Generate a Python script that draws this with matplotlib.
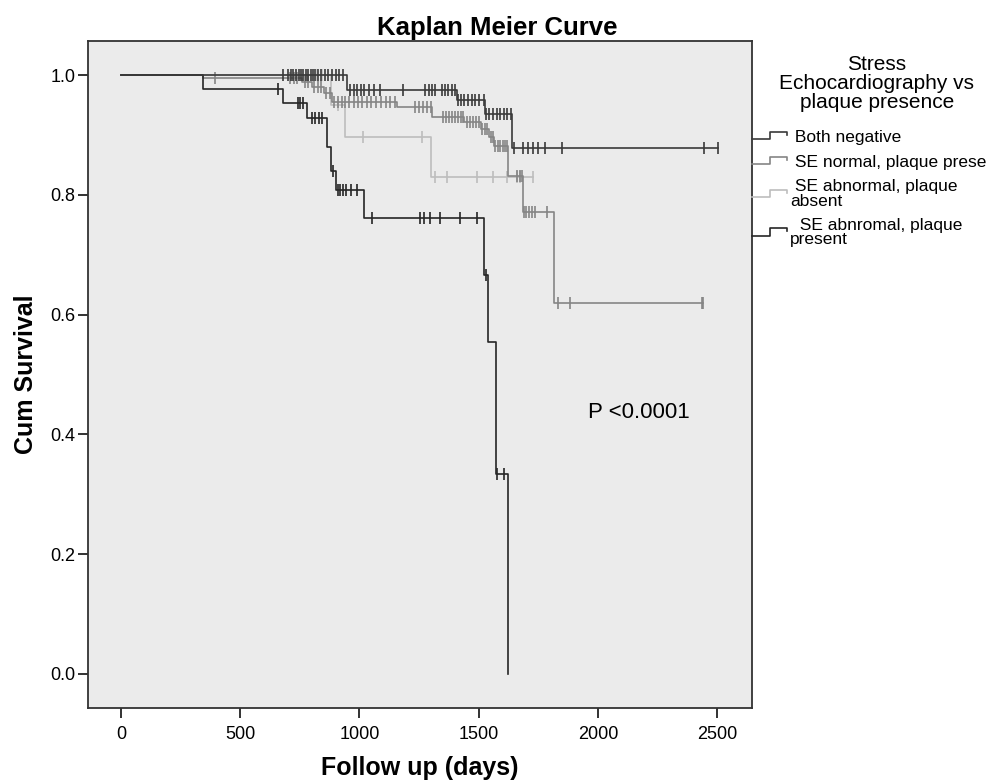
import matplotlib
matplotlib.use("Agg")
import matplotlib.pyplot as plt
import numpy as np
from matplotlib.legend_handler import HandlerBase
from matplotlib.lines import Line2D

plt.rcParams['font.family'] = ['Liberation Sans', 'DejaVu Sans']

# Kaplan-Meier step data (days, cumulative survival)
both_neg_t = [0, 948, 1408, 1525, 1640]
both_neg_s = [1.0, 0.975, 0.958, 0.935, 0.878]
both_neg_end = 2503
both_neg_cens = [680, 700, 712, 722, 735, 745, 755, 765, 775, 785, 795, 805, 815, 825,
                 840, 855, 870, 885, 900, 915, 930, 960, 975, 990, 1005, 1020, 1040,
                 1060, 1085, 1182, 1275, 1290, 1305, 1317, 1345, 1358, 1372, 1388, 1400,
                 1412, 1425, 1440, 1455, 1470, 1485, 1500, 1520, 1530, 1545, 1560, 1575,
                 1590, 1605, 1620, 1635, 1648, 1686, 1706, 1727, 1748, 1778, 1849,
                 2445, 2503]

se_norm_t = [0, 345, 760, 800, 850, 885, 1157, 1304, 1440, 1510, 1545, 1565, 1622, 1685, 1815]
se_norm_s = [1.0, 0.995, 0.988, 0.98, 0.97, 0.955, 0.947, 0.93, 0.922, 0.91, 0.897, 0.882,
             0.831, 0.771, 0.619]
se_norm_end = 2440
se_norm_cens = [395, 710, 725, 740, 770, 785, 810, 825, 840, 860, 875, 895, 910, 925, 940,
                955, 975, 995, 1010, 1030, 1050, 1070, 1090, 1110, 1130, 1150, 1233, 1250,
                1268, 1285, 1300, 1350, 1362, 1375, 1388, 1400, 1412, 1425, 1434, 1450,
                1462, 1475, 1490, 1500, 1515, 1525, 1535, 1550, 1558, 1570, 1580, 1590,
                1600, 1610, 1618, 1660, 1672, 1681, 1690, 1700, 1710, 1722, 1736, 1786,
                1833, 1882, 2435, 2440]

se_abn_abs_t = [0, 880, 940, 1300]
se_abn_abs_s = [1.0, 0.95, 0.897, 0.83]
se_abn_abs_end = 1727
se_abn_abs_cens = [822, 843, 910, 1015, 1262, 1317, 1367, 1493, 1560, 1618, 1660, 1673, 1727]

se_abn_pres_t = [0, 345, 680, 780, 864, 880, 900, 1019, 1522, 1540, 1572, 1623]
se_abn_pres_s = [1.0, 0.977, 0.953, 0.928, 0.88, 0.84, 0.808, 0.761, 0.667, 0.555, 0.333, 0.0]
se_abn_pres_end = 1623
se_abn_pres_cens = [660, 742, 752, 765, 800, 815, 830, 843, 890, 910, 920, 932, 945, 965,
                    990, 1052, 1255, 1270, 1295, 1337, 1421, 1493, 1530, 1575, 1605]

labels = [" Both negative", " SE normal, plaque present", " SE abnormal, plaque\nabsent",
          "  SE abnromal, plaque\npresent"]
colors = ["#3a3a3a", "#858585", "#bdbdbd", "#262626"]


class StepHandler(HandlerBase):
    # little step-shaped legend key, as SPSS draws it
    def create_artists(self, legend, orig_handle, xdescent, ydescent, width, height,
                       fontsize, trans):
        xs = np.array([0, 0.52, 0.52, 1.0, 1.0]) * width - xdescent
        ys = np.array([0.25, 0.25, 0.85, 0.85, 0.6]) * height - ydescent
        ln = Line2D(xs, ys, color=orig_handle.get_color(), lw=1.2, transform=trans)
        return [ln]


fig = plt.figure(figsize=(9.87, 7.81), dpi=100)
ax = fig.add_axes([0.0892, 0.0935, 0.6728, 0.854])
ax.set_facecolor("#ebebeb")

groups = [
    (both_neg_t, both_neg_s, both_neg_end, both_neg_cens),
    (se_norm_t, se_norm_s, se_norm_end, se_norm_cens),
    (se_abn_abs_t, se_abn_abs_s, se_abn_abs_end, se_abn_abs_cens),
    (se_abn_pres_t, se_abn_pres_s, se_abn_pres_end, se_abn_pres_cens),
]

handles = [None] * 4
for i in [2, 1, 3, 0]:
    t, s, end, cens = groups[i]
    t = np.array(t, dtype=float)
    s = np.array(s)
    xs = np.r_[t, end]
    ys = np.r_[s, s[-1]]
    (ln,) = ax.step(xs, ys, where='post', color=colors[i], lw=1.2)
    handles[i] = ln
    c = np.array(cens, dtype=float)
    cy = s[np.searchsorted(t, c, side='right') - 1]
    ax.plot(c, cy, ls='none', marker='|', ms=9, mew=1.2, color=colors[i])

ax.set_xlim(-138, 2646)
ax.set_ylim(-0.057, 1.057)
ax.set_xticks([0, 500, 1000, 1500, 2000, 2500])
ax.set_yticks([0.0, 0.2, 0.4, 0.6, 0.8, 1.0])
ax.set_yticklabels(["0.0", "0.2", "0.4", "0.6", "0.8", "1.0"])
ax.tick_params(axis='both', labelsize=13, length=7, width=1.3, color="#222222")
ax.tick_params(axis='y', pad=2)
ax.tick_params(axis='x', pad=6)
for sp in ax.spines.values():
    sp.set_color("#333333")
    sp.set_linewidth(1.3)

ax.set_xlabel("Follow up (days)", fontsize=18, fontweight='bold', labelpad=9)
ax.set_ylabel("Cum Survival", fontsize=18, fontweight='bold', labelpad=9)
fig.text(0.504, 0.964, "Kaplan Meier Curve", fontsize=18.5, fontweight='bold',
         ha='center', va='center')

ax.text(1958, 0.436, "P <0.0001", fontsize=16, va='center')

leg = ax.legend(handles, labels, handler_map={Line2D: StepHandler()},
                loc='upper left', bbox_to_anchor=(1.0, 0.979), frameon=False,
                borderaxespad=0, borderpad=0, handlelength=2.0, handletextpad=0.2,
                fontsize=12.5, labelspacing=0.55,
                title="Stress\nEchocardiography vs\nplaque presence", title_fontsize=15)
leg.get_title().set_multialignment('center')
leg.get_title().set_linespacing(1.0)
leg._legend_box.sep = 13
for txt in leg.get_texts():
    txt.set_linespacing(0.92)

fig.savefig("out.png", dpi=100)
